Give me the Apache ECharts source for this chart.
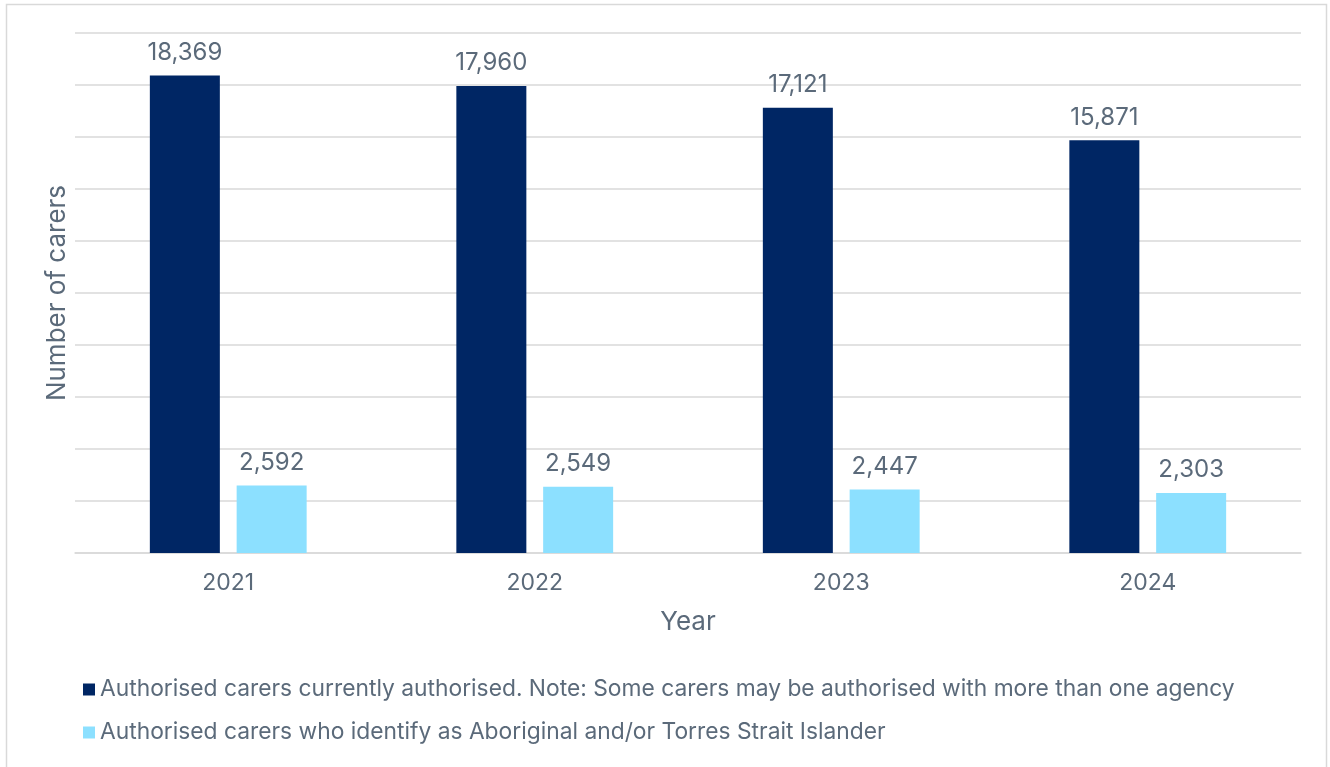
<!DOCTYPE html>
<html><head><meta charset="utf-8">
<script src="https://cdn.jsdelivr.net/npm/echarts@6/dist/echarts.min.js"></script>
<style>html,body{margin:0;padding:0;background:#fff}#c{width:1330px;height:767px}</style>
</head><body><div id="c"></div>
<script>
const categories = ['2021','2022','2023','2024'];
const seriesNames = ['Authorised carers currently authorised. Note: Some carers may be authorised with more than one agency','Authorised carers who identify as Aboriginal and/or Torres Strait Islander'];
const authorised = [18369, 17960, 17121, 15871];
const aboriginal = [2592, 2549, 2447, 2303];
const textColor = '#5b6a7a';
const font = 'Inter, "Noto Sans", sans-serif';
const chart = echarts.init(document.getElementById('c'));
const lbl = {show:true, position:'top', distance:11, color:textColor, fontSize:24, fontFamily:font, formatter:p=>p.value.toLocaleString('en-US')};
chart.setOption({
  animation:false,
  textStyle:{fontFamily:font},
  graphic:[{type:'rect', shape:{x:6.5,y:4.5,width:1320,height:800}, style:{fill:'none', stroke:'#d9d9d9', lineWidth:1.5}, silent:true}],
  grid:{left:75, right:29, top:33, bottom:214},
  legend:{orient:'vertical', left:78, top:673, itemWidth:12, itemHeight:12, itemGap:20, icon:'rect',
    textStyle:{color:textColor, fontSize:22.8, fontFamily:font}, data:seriesNames},
  xAxis:{type:'category', data:categories, name:'Year', nameLocation:'middle', nameGap:56,
    nameTextStyle:{color:textColor, fontSize:26, fontFamily:font},
    axisLine:{lineStyle:{color:'#d9d9d9', width:1.5}}, axisTick:{show:false},
    axisLabel:{color:textColor, fontSize:23, margin:19, fontFamily:font}},
  yAxis:{type:'value', min:0, max:20000, interval:2000, name:'Number of carers', nameLocation:'middle', nameGap:5,
    nameTextStyle:{color:textColor, fontSize:26, fontFamily:font},
    axisLabel:{show:false}, axisLine:{show:false}, axisTick:{show:false},
    splitLine:{lineStyle:{color:'#d9d9d9', width:1.5}}},
  series:[
    {name:seriesNames[0], type:'bar', data:authorised, barWidth:70, barGap:'24%', itemStyle:{color:'#002664'}, label:lbl},
    {name:seriesNames[1], type:'bar', data:aboriginal, barWidth:70, itemStyle:{color:'#8ce0ff'}, label:lbl}
  ]
});
</script></body></html>
